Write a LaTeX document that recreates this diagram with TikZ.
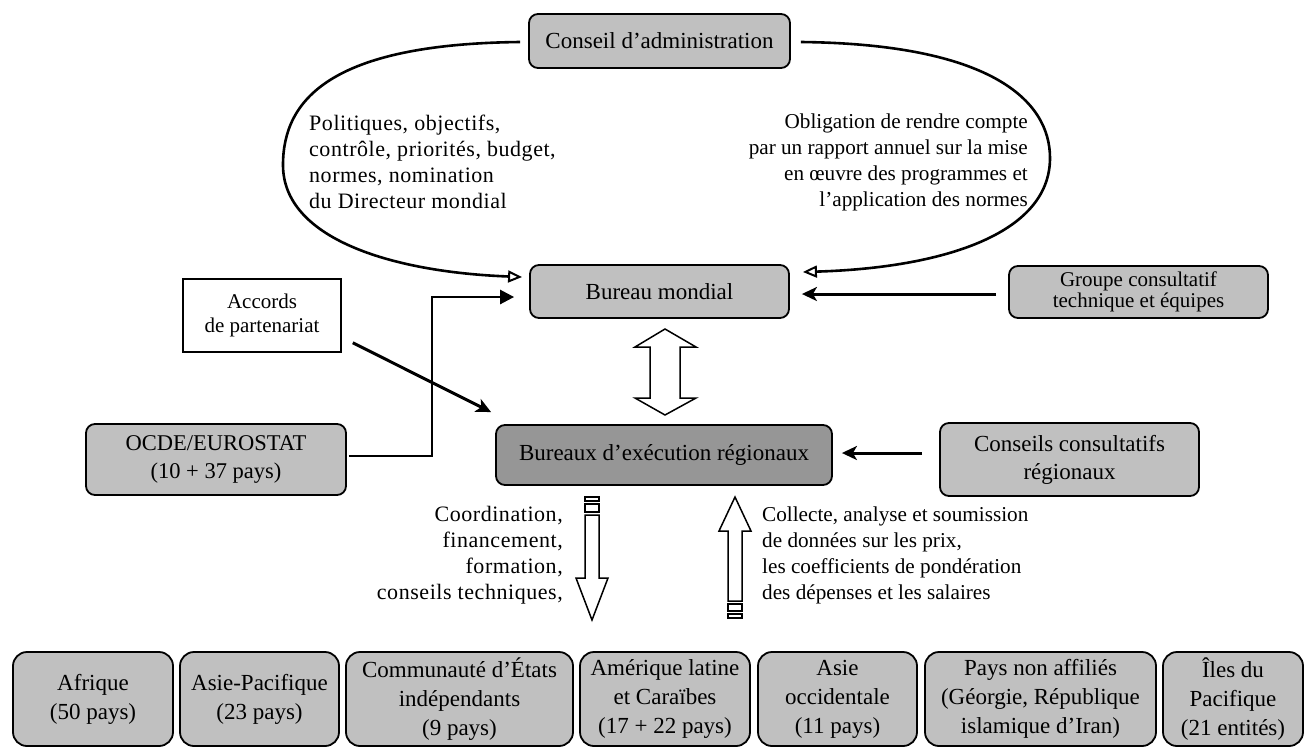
\documentclass[tikz,border=0pt]{standalone}
\usepackage{fontspec}
\setmainfont{Liberation Serif}
\newfontfamily\widefont{Liberation Serif}[LetterSpace=2.5]
\usetikzlibrary{calc,arrows.meta}
\definecolor{boxgray}{RGB}{192,192,192}
\definecolor{execgray}{RGB}{150,150,150}
\begin{document}
\begin{tikzpicture}[x=1pt,y=-1pt,
  box/.style={draw=black, line width=1.8pt, rounded corners=9pt, fill=boxgray, inner sep=0pt, align=center, font=\fontsize{23}{28}\selectfont},
  execbox/.style={box, fill=execgray},
  plainbox/.style={draw=black, line width=1.5pt, fill=white, inner sep=0pt, align=center, font=\fontsize{21}{24}\selectfont},
  regbox/.style={draw=black, line width=1.8pt, rounded corners=14pt, fill=boxgray, inner sep=0pt, align=center, minimum height=94pt, font=\fontsize{23}{29}\selectfont},
  note/.style={inner sep=0pt, font=\fontsize{21.2}{26}\selectfont},
  widenote/.style={inner sep=0pt, font=\widefont\fontsize{22}{26}\selectfont},
  curvearrow/.style={line width=2.6pt, -{Triangle[open,length=14pt,width=12pt,line width=2pt]}},
  solidarrow/.style={line width=3pt, -{Stealth[length=15pt,width=14pt,inset=4pt]}},
  trarrow/.style={line width=2.6pt, -{Triangle[length=14pt,width=14pt]}},
  blockarrow/.style={draw=black, line width=1.5pt, fill=white, line join=miter}
]
\useasboundingbox (0,0) rectangle (1312,748);

% main boxes
\node[box, minimum width=261pt, minimum height=54pt] (conseil) at (659.5,41) {Conseil d’administration};
\node[box, minimum width=259pt, minimum height=53pt] (bmond) at (659.5,291.5) {Bureau mondial};
\node[box, minimum width=259pt, minimum height=52pt, font=\fontsize{21}{21}\selectfont] (groupe) at (1138.5,292) {Groupe consultatif\\technique et équipes};
\node[plainbox, minimum width=158pt, minimum height=73pt] (accords) at (262,315.5) {Accords\\de partenariat};
\node[box, minimum width=260pt, minimum height=71pt, font=\fontsize{22.5}{28}\selectfont] (ocde) at (216,459.5) {OCDE/EUROSTAT\\(10 + 37 pays)};
\node[execbox, minimum width=336pt, minimum height=60pt] (bexec) at (664,455) {Bureaux d’exécution régionaux};
\node[box, minimum width=259pt, minimum height=73pt] (ccr) at (1069.5,459.5) {Conseils consultatifs\\régionaux};

% annotations
\node[widenote, anchor=west, align=left] (politiques) at (309,162) {Politiques, objectifs,\\contrôle, priorités, budget,\\normes, nomination\\du Directeur mondial};
\node[note, anchor=east, align=right] (obligation) at (1028,162) {Obligation de rendre compte\\par un rapport annuel sur la mise\\en œuvre des programmes et\\l’application des normes};
\node[widenote, anchor=east, align=right] (coord) at (563,555.5) {Coordination,\\financement,\\formation,\\conseils techniques,};
\node[note, anchor=west, align=left] (collecte) at (762,555.5) {Collecte, analyse et soumission\\de données sur les prix,\\les coefficients de pondération\\des dépenses et les salaires};

% regional boxes
\node[regbox, minimum width=160pt] (afrique) at (93,699) {Afrique\\(50 pays)};
\node[regbox, minimum width=159pt] (asiepac) at (259.5,699) {Asie-Pacifique\\(23 pays)};
\node[regbox, minimum width=227pt] (cei) at (459.5,699) {Communauté d’États\\indépendants\\(9 pays)};
\node[regbox, minimum width=170pt] (amlat) at (665,699) {Amérique latine\\et Caraïbes\\(17 + 22 pays)};
\node[regbox, minimum width=159pt] (asieocc) at (837.5,699) {Asie\\occidentale\\(11 pays)};
\node[regbox, minimum width=231pt] (nonaff) at (1040.5,699) {Pays non affiliés\\(Géorgie, République\\islamique d’Iran)};
\node[regbox, minimum width=140pt] (iles) at (1233,699) {Îles du\\Pacifique\\(21 entités)};

% curved connectors
\coordinate (cL) at ($(conseil.west)+(-8,1)$);
\coordinate (bL) at ($(bmond.west)+(-7,-14.5)$);
\draw[curvearrow] (cL) .. controls (330,44) and (283,100) .. (283,165) .. controls (283,238) and (390,272) .. (bL);
\coordinate (cR) at ($(conseil.east)+(10,1)$);
\coordinate (bR) at ($(bmond.east)+(13,-19.5)$);
\draw[curvearrow] (cR) .. controls (990,44) and (1050,100) .. (1050,158) .. controls (1050,235) and (940,268) .. (bR);

% straight connectors
\draw[solidarrow] ($(groupe.west)+(-12,2)$) -- ($(bmond.east)+(12,2.5)$);
\draw[solidarrow] ($(ccr.west)+(-17,-6.5)$) -- ($(bexec.east)+(9,-2)$);
\draw[solidarrow] ($(accords.south east)+(11,-10)$) -- ($(bexec.north west)+(-4,-12)$);
\draw[trarrow] ($(ocde.east)+(2,-3.5)$) -- (432,456) |- ($(bmond.west)+(-15,5.5)$);

% double block arrow between the offices
\coordinate (dbl) at (665,372);
\draw[blockarrow, shift={(dbl)}] (0,-43) -- (31,-25) -- (15,-25) -- (15,26) -- (31,26) -- (0,43) -- (-30,26) -- (-15,26) -- (-15,-25) -- (-30,-25) -- cycle;

% striped down arrow
\coordinate (dn) at (592,497);
\draw[blockarrow, line width=1.3pt, shift={(dn)}] (-7,0) rectangle (7,4);
\draw[blockarrow, line width=1.3pt, shift={(dn)}] (-7,7) rectangle (7,15);
\draw[blockarrow, shift={(dn)}] (-7,18) -- (7,18) -- (7,81) -- (16,81) -- (0,123) -- (-16,81) -- (-7,81) -- cycle;

% striped up arrow
\coordinate (up) at (735,497);
\draw[blockarrow, shift={(up)}] (0,0) -- (16,34) -- (7,34) -- (7,104) -- (-7,104) -- (-7,34) -- (-16,34) -- cycle;
\draw[blockarrow, line width=1.3pt, shift={(up)}] (-7,107) rectangle (7,114);
\draw[blockarrow, line width=1.3pt, shift={(up)}] (-7,117) rectangle (7,121);
\end{tikzpicture}
\end{document}
